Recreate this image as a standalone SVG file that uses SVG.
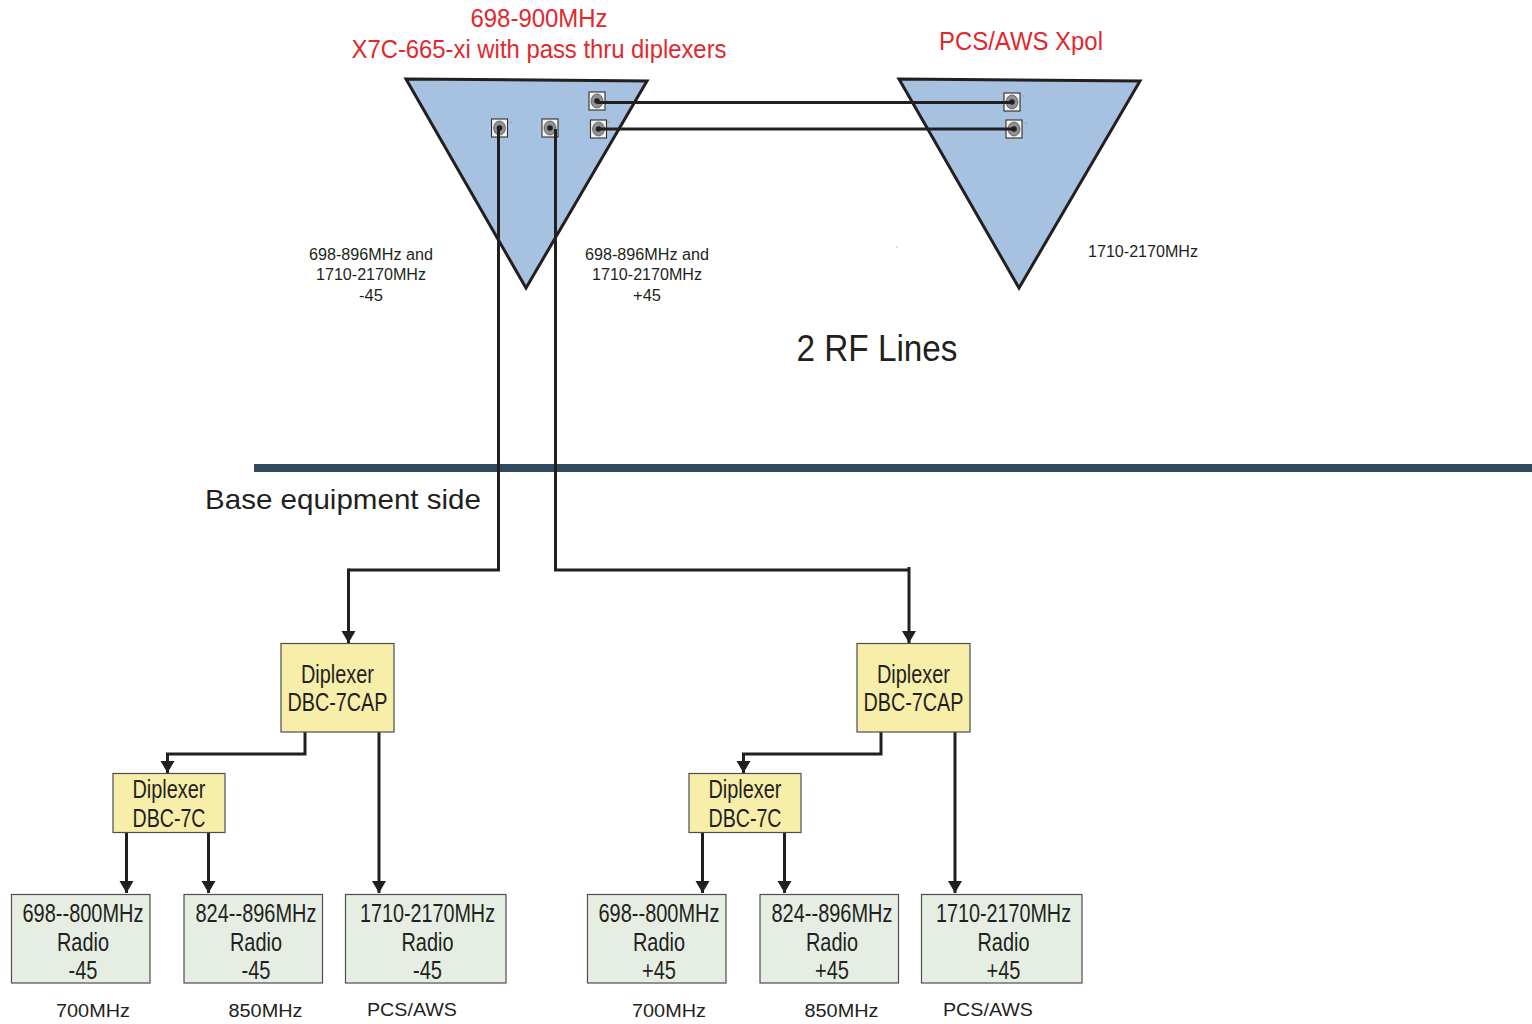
<svg xmlns="http://www.w3.org/2000/svg" width="1532" height="1024" viewBox="0 0 1532 1024">
<style>
text{font-family:"Liberation Sans",Arial,sans-serif;fill:#231f20;text-anchor:middle}
.red{fill:#e0282e;font-size:25px}
.sm{font-size:16px}
.box{font-size:25px}
.cap{font-size:18px}
.tri{fill:#a6c2e0;stroke:#231f20;stroke-width:3}
.dip{fill:#f7eeaa;stroke:#4d4d4f;stroke-width:1.2}
.rad{fill:#e6eee3;stroke:#4d4d4f;stroke-width:1.2}
.c{fill:none;stroke:#231f20;stroke-width:3}
.a{fill:none;stroke:#231f20;stroke-width:3;marker-end:url(#ah)}
.pb{fill:#f7f5ef;stroke:#2e2e30;stroke-width:1.1}
.pr{fill:#8e9094;stroke:#3c3c3e;stroke-width:.6}
.pc{fill:#231f20}
.sp{fill:#6d6e71}
</style>
<defs>
<marker id="ah" markerUnits="userSpaceOnUse" markerWidth="14" markerHeight="15" refX="12" refY="7" orient="auto"><path d="M0,0 L12,7 L0,14 Z" fill="#231f20"/></marker>
<g id="port"><rect class="pb" x="-8" y="-9" width="16" height="18"/><ellipse class="pr" rx="6" ry="7"/><circle class="pc" r="2.800"/></g>
</defs>

<g id="antenna-left"><path class="tri" d="M406,79 L647,81 L526,288 Z"/></g>
<g id="antenna-right"><path class="tri" d="M899,79 L1140,81 L1019,288 Z"/></g>

<g id="ports">
<use href="#port" x="597" y="101"/>
<use href="#port" x="598.500" y="129"/>
<use href="#port" x="499.500" y="128"/>
<use href="#port" x="550" y="128"/>
<use href="#port" x="1012" y="102"/>
<use href="#port" x="1014" y="129"/>
</g>
<g id="specks">
<circle class="sp" cx="511" cy="122" r=".6"/><circle class="sp" cx="609.500" cy="122" r=".6"/><circle class="sp" cx="1024" cy="96" r=".6"/><circle class="sp" cx="1026" cy="123" r=".6"/><circle class="sp" cx="897" cy="247" r=".6"/><circle class="sp" cx="403" cy="252" r=".6"/>
</g>

<g id="divider"><rect x="254" y="464" width="1278" height="8" fill="#324a60"/></g>

<g id="connectors">
<path class="c" d="M597,102.500 H1012"/>
<path class="c" d="M599,129 H1014"/>
<path class="c" d="M498.500,129 V570 H348.500"/>
<path class="a" d="M348.500,568.500 V643"/>
<path class="c" d="M555.500,129 V570 H909"/>
<path class="a" d="M909,567 V643"/>
<path class="a" d="M305,732 V754 H167.500 V773"/>
<path class="a" d="M379,732 V893"/>
<path class="a" d="M126.500,832 V893"/>
<path class="a" d="M208.500,832 V893"/>
<path class="a" d="M881,732 V754 H743.500 V773"/>
<path class="a" d="M955,732 V893"/>
<path class="a" d="M702.500,832 V893"/>
<path class="a" d="M784.500,832 V893"/>
</g>

<g id="dip1"><rect class="dip" x="281" y="643.500" width="113" height="88.500"/><text class="box" x="337.500" y="683" textLength="73" lengthAdjust="spacingAndGlyphs">Diplexer</text><text class="box" x="337.500" y="711" textLength="100" lengthAdjust="spacingAndGlyphs">DBC-7CAP</text></g>
<g id="dip2"><rect class="dip" x="113" y="773.500" width="112" height="59"/><text class="box" x="169" y="798" textLength="73" lengthAdjust="spacingAndGlyphs">Diplexer</text><text class="box" x="169" y="827" textLength="73" lengthAdjust="spacingAndGlyphs">DBC-7C</text></g>
<g id="dip3"><rect class="dip" x="857" y="643.500" width="113" height="88.500"/><text class="box" x="913.500" y="683" textLength="73" lengthAdjust="spacingAndGlyphs">Diplexer</text><text class="box" x="913.500" y="711" textLength="100" lengthAdjust="spacingAndGlyphs">DBC-7CAP</text></g>
<g id="dip4"><rect class="dip" x="689" y="773.500" width="112" height="59"/><text class="box" x="745" y="798" textLength="73" lengthAdjust="spacingAndGlyphs">Diplexer</text><text class="box" x="745" y="827" textLength="73" lengthAdjust="spacingAndGlyphs">DBC-7C</text></g>

<g id="rad1"><rect class="rad" x="11.500" y="894.500" width="138.500" height="88.500"/><text class="box" x="83" y="922" textLength="121" lengthAdjust="spacingAndGlyphs">698--800MHz</text><text class="box" x="83" y="951" textLength="52" lengthAdjust="spacingAndGlyphs">Radio</text><text class="box" x="83" y="979" textLength="29" lengthAdjust="spacingAndGlyphs">-45</text></g>
<g id="rad2"><rect class="rad" x="184" y="894.500" width="138.500" height="88.500"/><text class="box" x="256" y="922" textLength="121" lengthAdjust="spacingAndGlyphs">824--896MHz</text><text class="box" x="256" y="951" textLength="52" lengthAdjust="spacingAndGlyphs">Radio</text><text class="box" x="256" y="979" textLength="29" lengthAdjust="spacingAndGlyphs">-45</text></g>
<g id="rad3"><rect class="rad" x="345.500" y="894.500" width="160.500" height="88.500"/><text class="box" x="427.500" y="922" textLength="135" lengthAdjust="spacingAndGlyphs">1710-2170MHz</text><text class="box" x="427.500" y="951" textLength="52" lengthAdjust="spacingAndGlyphs">Radio</text><text class="box" x="427.500" y="979" textLength="29" lengthAdjust="spacingAndGlyphs">-45</text></g>
<g id="rad4"><rect class="rad" x="587.500" y="894.500" width="138.500" height="88.500"/><text class="box" x="659" y="922" textLength="121" lengthAdjust="spacingAndGlyphs">698--800MHz</text><text class="box" x="659" y="951" textLength="52" lengthAdjust="spacingAndGlyphs">Radio</text><text class="box" x="659" y="979" textLength="34" lengthAdjust="spacingAndGlyphs">+45</text></g>
<g id="rad5"><rect class="rad" x="760" y="894.500" width="138.500" height="88.500"/><text class="box" x="832" y="922" textLength="121" lengthAdjust="spacingAndGlyphs">824--896MHz</text><text class="box" x="832" y="951" textLength="52" lengthAdjust="spacingAndGlyphs">Radio</text><text class="box" x="832" y="979" textLength="34" lengthAdjust="spacingAndGlyphs">+45</text></g>
<g id="rad6"><rect class="rad" x="921.500" y="894.500" width="160.500" height="88.500"/><text class="box" x="1003.500" y="922" textLength="135" lengthAdjust="spacingAndGlyphs">1710-2170MHz</text><text class="box" x="1003.500" y="951" textLength="52" lengthAdjust="spacingAndGlyphs">Radio</text><text class="box" x="1003.500" y="979" textLength="34" lengthAdjust="spacingAndGlyphs">+45</text></g>

<g id="labels">
<text class="red" x="539" y="27" textLength="137" lengthAdjust="spacingAndGlyphs">698-900MHz</text>
<text class="red" x="539" y="58" textLength="375" lengthAdjust="spacingAndGlyphs">X7C-665-xi with pass thru diplexers</text>
<text class="red" x="1021" y="50" textLength="164" lengthAdjust="spacingAndGlyphs">PCS/AWS Xpol</text>
<text class="sm" x="371" y="260" textLength="124" lengthAdjust="spacingAndGlyphs">698-896MHz and</text>
<text class="sm" x="371" y="280" textLength="110" lengthAdjust="spacingAndGlyphs">1710-2170MHz</text>
<text class="sm" x="371" y="301" textLength="24" lengthAdjust="spacingAndGlyphs">-45</text>
<text class="sm" x="647" y="260" textLength="124" lengthAdjust="spacingAndGlyphs">698-896MHz and</text>
<text class="sm" x="647" y="280" textLength="110" lengthAdjust="spacingAndGlyphs">1710-2170MHz</text>
<text class="sm" x="647" y="301" textLength="28" lengthAdjust="spacingAndGlyphs">+45</text>
<text class="sm" x="1143" y="257" textLength="110" lengthAdjust="spacingAndGlyphs">1710-2170MHz</text>
<text x="877" y="361" font-size="36" textLength="161" lengthAdjust="spacingAndGlyphs">2 RF Lines</text>
<text x="343" y="509" font-size="28" textLength="276" lengthAdjust="spacingAndGlyphs">Base equipment side</text>
<text class="cap" x="93" y="1017" textLength="74" lengthAdjust="spacingAndGlyphs">700MHz</text>
<text class="cap" x="265.500" y="1017" textLength="74" lengthAdjust="spacingAndGlyphs">850MHz</text>
<text class="cap" x="412" y="1016" textLength="90" lengthAdjust="spacingAndGlyphs">PCS/AWS</text>
<text class="cap" x="669" y="1017" textLength="74" lengthAdjust="spacingAndGlyphs">700MHz</text>
<text class="cap" x="841.500" y="1017" textLength="74" lengthAdjust="spacingAndGlyphs">850MHz</text>
<text class="cap" x="988" y="1016" textLength="90" lengthAdjust="spacingAndGlyphs">PCS/AWS</text>
</g>
</svg>
